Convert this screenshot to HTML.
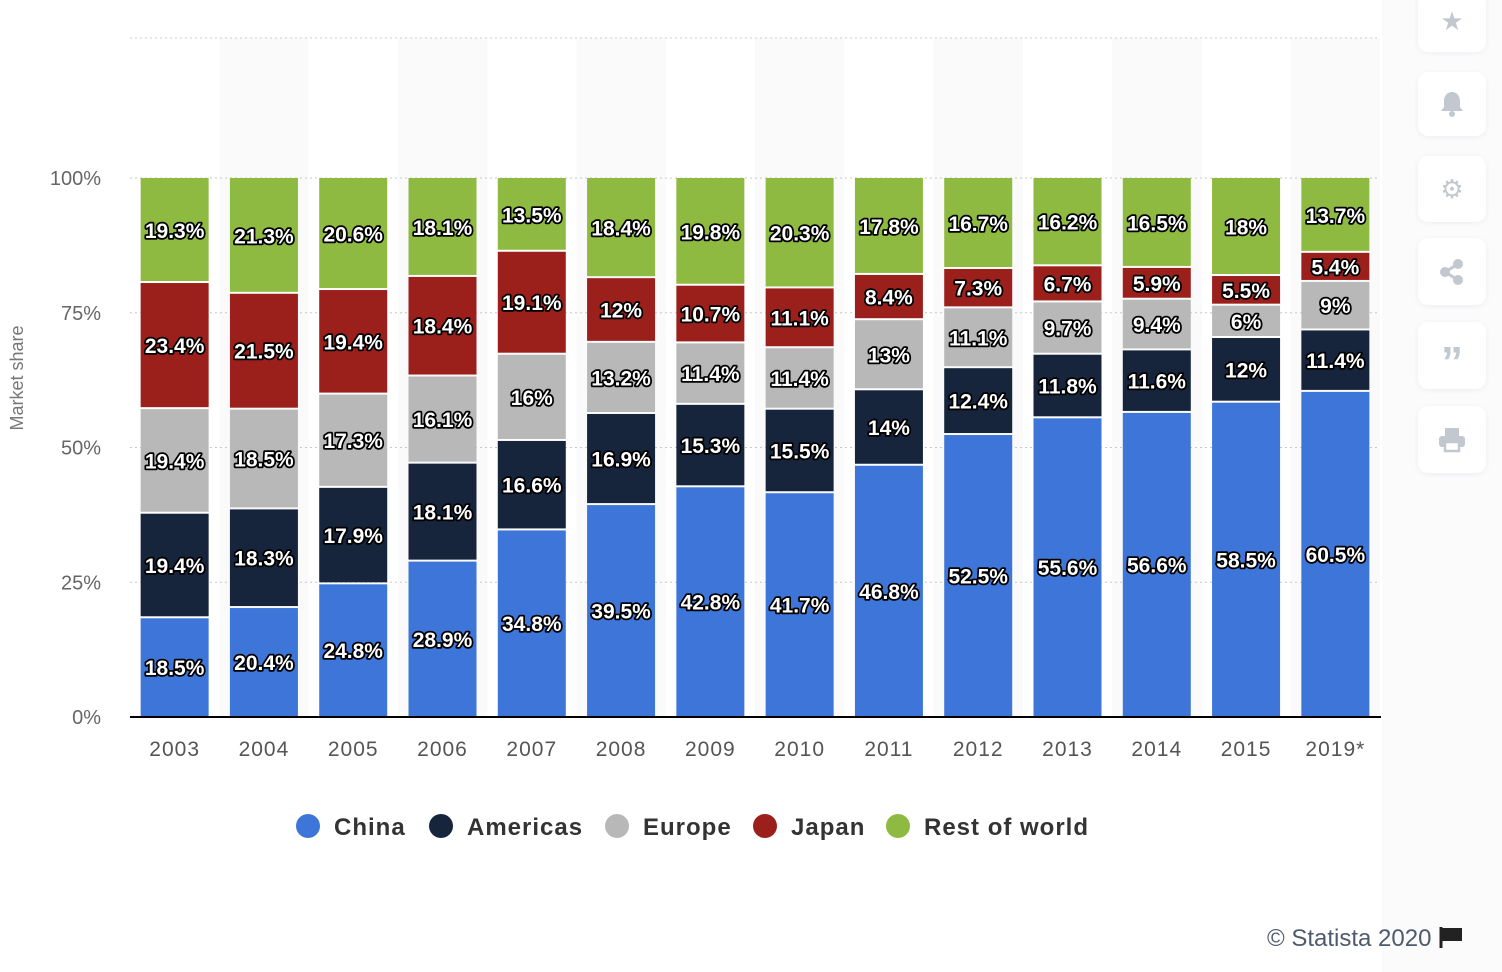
<!DOCTYPE html>
<html><head><meta charset="utf-8"><style>
body{margin:0;width:1502px;height:972px;background:#fff;overflow:hidden;font-family:"Liberation Sans",sans-serif;position:relative}
.side{position:absolute;left:1382px;top:0;width:120px;height:972px;background:#fbfbfc}
.ib{position:absolute;left:1418px;width:68px;background:#fff;border-radius:10px;box-shadow:0 1px 6px rgba(0,0,0,0.06);display:flex;align-items:center;justify-content:center;color:#c3c8d0;font-size:26px}
</style></head><body>
<div class="side"></div>
<div class="ib" style="top:-10px;height:62px">★</div>
<div class="ib" style="top:72px;height:64px"><svg width="26" height="28" viewBox="0 0 26 28"><path d="M13 2c5 0 8 4 8 9v6l3 4H2l3-4v-6c0-5 3-9 8-9z" fill="#c3c8d0"/><circle cx="13" cy="24" r="3" fill="#c3c8d0"/></svg></div>
<div class="ib" style="top:156px;height:66px">⚙</div>
<div class="ib" style="top:238px;height:67px"><svg width="28" height="28" viewBox="0 0 28 28"><circle cx="20" cy="6" r="5" fill="#c3c8d0"/><circle cx="20" cy="22" r="5" fill="#c3c8d0"/><circle cx="7" cy="14" r="5" fill="#c3c8d0"/><path d="M7 14L20 6M7 14L20 22" stroke="#c3c8d0" stroke-width="3"/></svg></div>
<div class="ib" style="top:322px;height:67px;font-size:44px;font-weight:bold;padding-top:14px;box-sizing:border-box">”</div>
<div class="ib" style="top:406px;height:67px"><svg width="28" height="26" viewBox="0 0 28 26"><rect x="7" y="1" width="14" height="8" fill="#c3c8d0"/><rect x="1" y="9" width="26" height="11" rx="3" fill="#c3c8d0"/><rect x="7" y="15" width="14" height="9" fill="#fff" stroke="#c3c8d0" stroke-width="2.5"/></svg></div>
<svg id="chart" width="1382" height="972" style="position:absolute;left:0;top:0"></svg>
<div style="position:absolute;left:1267px;top:925px;font-size:24px;color:#4e5a6e">© Statista 2020 <svg width="26" height="22" viewBox="0 0 26 22" style="vertical-align:-2px"><path d="M3 1v21" stroke="#222" stroke-width="3"/><path d="M4 2h20v13H4z" fill="#222"/></svg></div>
<script>
const years=["2003","2004","2005","2006","2007","2008","2009","2010","2011","2012","2013","2014","2015","2019*"];
const china=[18.5,20.4,24.8,28.9,34.8,39.5,42.8,41.7,46.8,52.5,55.6,56.6,58.5,60.5];
const americas=[19.4,18.3,17.9,18.1,16.6,16.9,15.3,15.5,14,12.4,11.8,11.6,12,11.4];
const europe=[19.4,18.5,17.3,16.1,16,13.2,11.4,11.4,13,11.1,9.7,9.4,6,9];
const japan=[23.4,21.5,19.4,18.4,19.1,12,10.7,11.1,8.4,7.3,6.7,5.9,5.5,5.4];
const rest=[19.3,21.3,20.6,18.1,13.5,18.4,19.8,20.3,17.8,16.7,16.2,16.5,18,13.7];
const yTicks=[0,25,50,75,100];
const seriesNames=["China","Americas","Europe","Japan","Rest of world"];
const colors=["#3d76d8","#16243c","#b8b8b8","#9b201c","#8fba41"];
const series=[china,americas,europe,japan,rest];
const NS="http://www.w3.org/2000/svg",svg=document.getElementById('chart');
const X0=130,X1=1380,Y0=717,Y100=178,slot=(X1-X0)/years.length,bw=68;
const y=v=>Y0-(Y0-Y100)*v/100, xc=i=>X0+slot*(i+0.5);
function mk(t,a,p){const e=document.createElementNS(NS,t);for(const k in a)e.setAttribute(k,a[k]);(p||svg).appendChild(e);return e;}
years.forEach((yr,i)=>{if(i%2==1){const r=mk('rect',{x:X0+slot*i,y:38,width:slot,height:Y0-38,fill:'#fafafa'});

}});
const topLine=mk('line',{x1:X0,x2:X1,y1:38,y2:38,stroke:'#ccc','stroke-dasharray':'2,3'});


yTicks.forEach(t=>{const l=mk('line',{x1:X0,x2:X1,y1:y(t),y2:y(t),stroke:'#c8c8c8','stroke-dasharray':'2,3'});


const tx=mk('text',{x:101,y:y(t)+7,'text-anchor':'end','font-size':20,fill:'#666'});tx.textContent=t+'%';

});
const yt=mk('text',{x:23,y:378,'text-anchor':'middle','font-size':18,fill:'#777',transform:'rotate(-90 23 378)'});yt.textContent='Market share';


years.forEach((yr,i)=>{let tot=0;series.forEach(s=>tot+=s[i]);let cum=0;
series.forEach((s,k)=>{const a=cum/tot*100,b=(cum+s[i])/tot*100;cum+=s[i];
const y1=y(b),y2=y(a);const r=mk('rect',{x:xc(i)-bw/2,y:y1+(k<4?1:0),width:bw,height:Math.max(0,y2-y1-(k>0?1:0)-(k<4?1:0)),fill:colors[k]});


const lb=mk('text',{x:xc(i),y:(y1+y2)/2+8,'text-anchor':'middle','font-size':21,'font-weight':'bold',fill:'#fff',stroke:'#000','stroke-width':3.5,'paint-order':'stroke','stroke-linejoin':'round'});lb.textContent=s[i]+'%';

});
const xl=mk('text',{x:xc(i),y:756,'text-anchor':'middle','font-size':21,fill:'#555','letter-spacing':'1'});xl.textContent=yr;

});
const ax=mk('line',{x1:X0,x2:X1+1,y1:Y0,y2:Y0,stroke:'#000','stroke-width':2});


const lx=[308,441,617,765,898];
seriesNames.forEach((n,k)=>{const g=mk('g',{});


mk('circle',{cx:lx[k],cy:826,r:12,fill:colors[k]},g);const t=mk('text',{x:lx[k]+26,y:835,'font-size':24,'font-weight':'bold',fill:'#333','letter-spacing':'1'},g);t.textContent=n;});
</script>
</body></html>
